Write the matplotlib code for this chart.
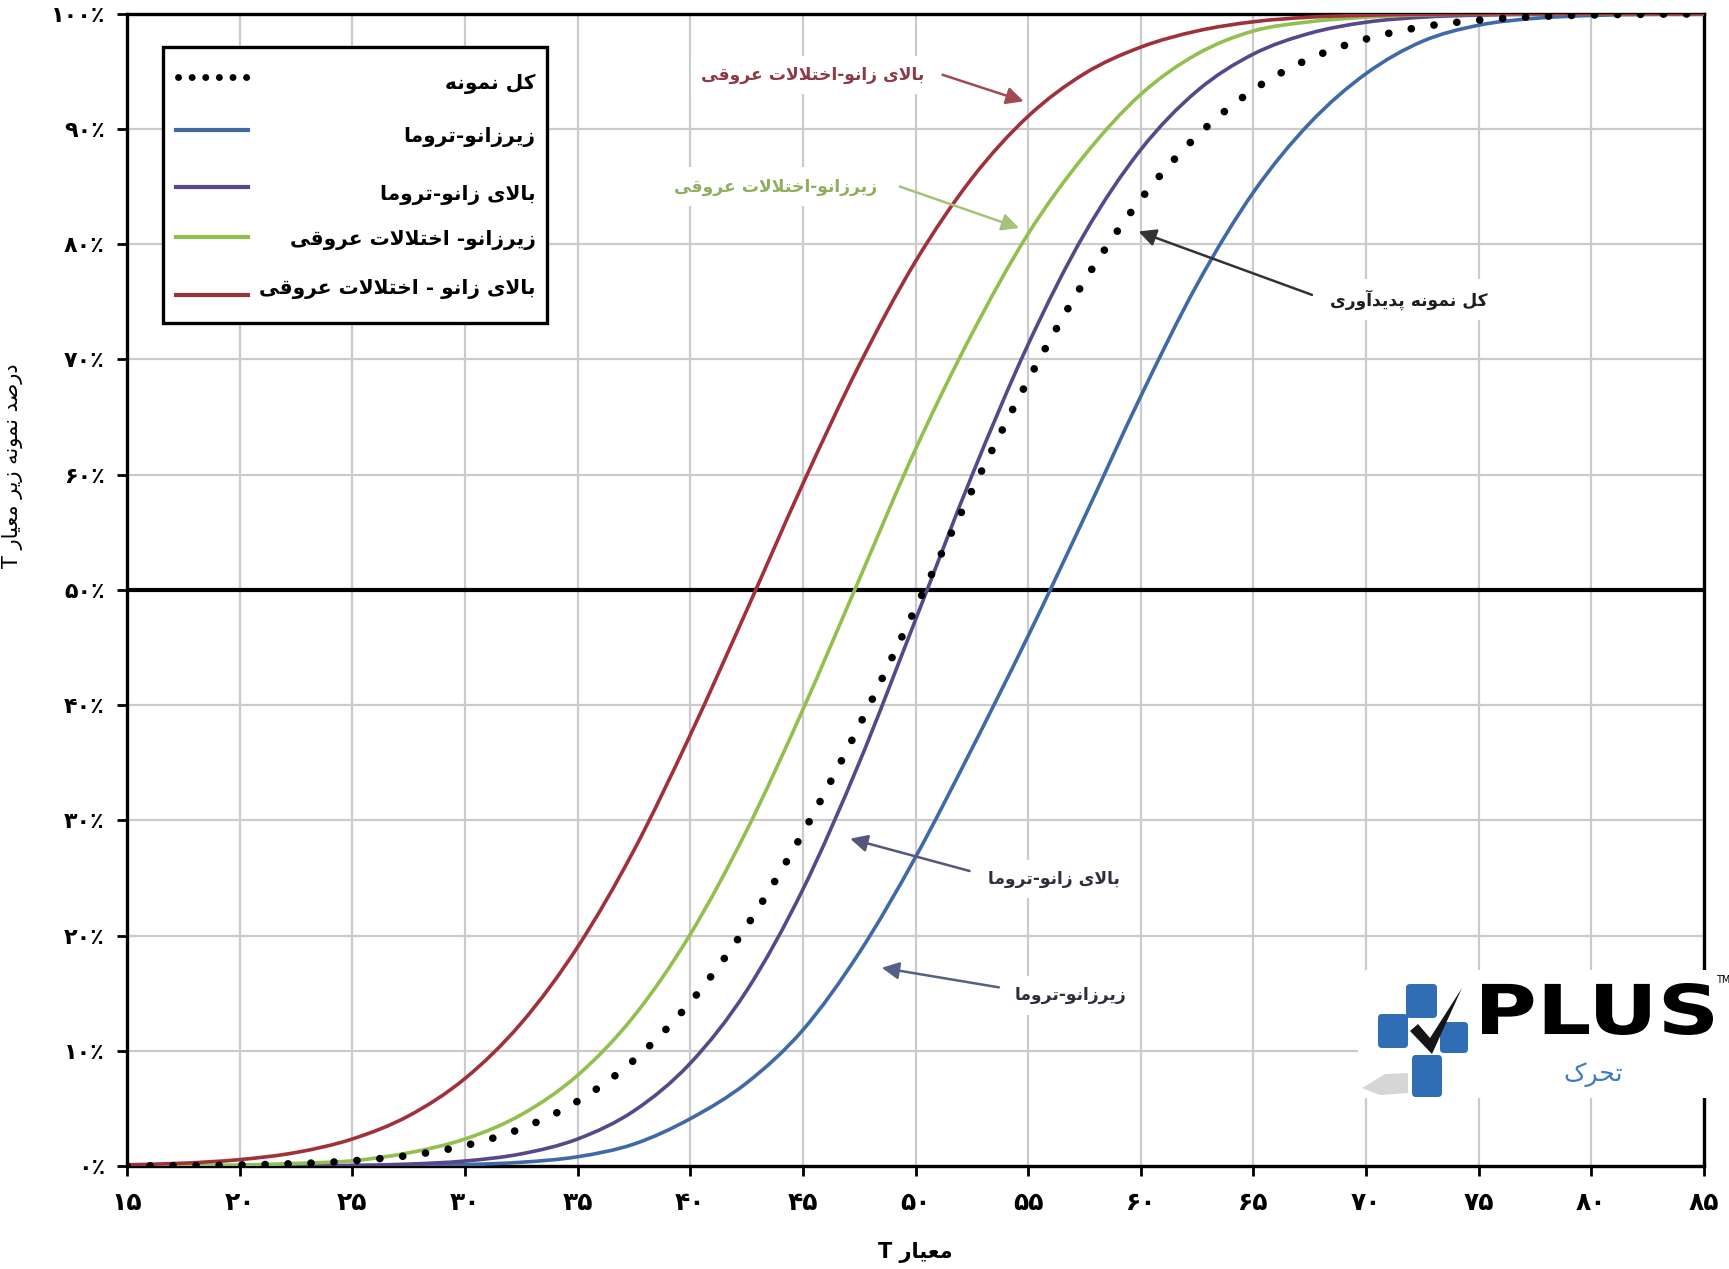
import matplotlib
matplotlib.use("Agg")
import matplotlib.pyplot as plt
from matplotlib.patches import Rectangle, Polygon, PathPatch, FancyBboxPatch
from matplotlib.path import Path
from matplotlib.textpath import TextPath
from matplotlib.font_manager import FontProperties
import matplotlib.transforms as mtransforms

# ---------------- data ----------------
t_values = [15, 17.5, 20, 22.5, 25, 27.5, 30, 32.5, 35, 37.5, 40, 42.5, 45, 47.5,
            50, 52.5, 55, 57.5, 60, 62.5, 65, 67.5, 70, 72.5, 75, 77.5, 80, 82.5, 85]

total_sample = [0.0001, 0.0003, 0.0009, 0.0020, 0.0044, 0.0091, 0.0177, 0.0325, 0.0562,
                0.0918, 0.142, 0.208, 0.289, 0.382, 0.484, 0.586, 0.682, 0.768, 0.839,
                0.894, 0.934, 0.961, 0.978, 0.9886, 0.9944, 0.9974, 0.9989, 0.9995, 0.9998]
below_knee_trauma = [0.0, 0.0, 0.0, 0.0001, 0.0002, 0.0005, 0.0012, 0.0032, 0.008, 0.019,
                     0.041, 0.072, 0.118, 0.185, 0.268, 0.362, 0.46, 0.563, 0.668, 0.765,
                     0.845, 0.905, 0.948, 0.976, 0.990, 0.996, 0.9985, 0.9995, 0.9998]
above_knee_trauma = [0.0, 0.0, 0.0, 0.0002, 0.0005, 0.0016, 0.0043, 0.0105, 0.0234, 0.0478,
                     0.0891, 0.152, 0.240, 0.350, 0.474, 0.599, 0.713, 0.809, 0.882, 0.933,
                     0.965, 0.983, 0.9926, 0.997, 0.9988, 0.9996, 0.9999, 1.0, 1.0]
below_knee_vascular = [0.0001, 0.0003, 0.0008, 0.0022, 0.0045, 0.0114, 0.0234, 0.0445, 0.0787,
                       0.130, 0.201, 0.291, 0.396, 0.509, 0.622, 0.722, 0.809, 0.877, 0.930,
                       0.965, 0.985, 0.993, 0.997, 0.999, 0.9995, 1.0, 1.0, 1.0, 1.0]
above_knee_vascular = [0.001, 0.0024, 0.0055, 0.0117, 0.0234, 0.0435, 0.0759, 0.124, 0.190,
                       0.274, 0.374, 0.482, 0.592, 0.695, 0.785, 0.857, 0.911, 0.948, 0.971,
                       0.985, 0.993, 0.997, 0.9987, 0.9995, 0.9998, 1.0, 1.0, 1.0, 1.0]

series_labels = ["کل نمونه", "زیرزانو-تروما", "بالای زانو-تروما",
                 "زیرزانو- اختلالات عروقی", "بالای زانو - اختلالات عروقی"]

x_ticks = [15, 20, 25, 30, 35, 40, 45, 50, 55, 60, 65, 70, 75, 80, 85]
x_tick_labels = ["۱۵", "۲۰", "۲۵", "۳۰", "۳۵", "۴۰", "۴۵", "۵۰", "۵۵", "۶۰", "۶۵", "۷۰", "۷۵", "۸۰", "۸۵"]
y_ticks = [0, 0.1, 0.2, 0.3, 0.4, 0.5, 0.6, 0.7, 0.8, 0.9, 1.0]
y_tick_labels = ["۰٪", "۱۰٪", "۲۰٪", "۳۰٪", "۴۰٪", "۵۰٪", "۶۰٪", "۷۰٪", "۸۰٪", "۹۰٪", "۱۰۰٪"]

x_label = "معیار T"
y_label = "درصد نمونه زیر معیار T"
logo_word = "تحرک"

# ---------------- simple Persian shaping (matplotlib has no text shaping) ----------------
FORMS = {
    'ا': ('\uFE8D', '\uFE8E', None, None),
    'آ': ('\uFE81', '\uFE82', None, None),
    'ب': ('\uFE8F', '\uFE90', '\uFE91', '\uFE92'),
    'پ': ('\uFB56', '\uFB57', '\uFB58', '\uFB59'),
    'ت': ('\uFE95', '\uFE96', '\uFE97', '\uFE98'),
    'ح': ('\uFEA1', '\uFEA2', '\uFEA3', '\uFEA4'),
    'خ': ('\uFEA5', '\uFEA6', '\uFEA7', '\uFEA8'),
    'د': ('\uFEA9', '\uFEAA', None, None),
    'ر': ('\uFEAD', '\uFEAE', None, None),
    'ز': ('\uFEAF', '\uFEB0', None, None),
    'ص': ('\uFEB9', '\uFEBA', '\uFEBB', '\uFEBC'),
    'ع': ('\uFEC9', '\uFECA', '\uFECB', '\uFECC'),
    'ق': ('\uFED5', '\uFED6', '\uFED7', '\uFED8'),
    'ک': ('\uFB8E', '\uFB8F', '\uFB90', '\uFB91'),
    'ل': ('\uFEDD', '\uFEDE', '\uFEDF', '\uFEE0'),
    'م': ('\uFEE1', '\uFEE2', '\uFEE3', '\uFEE4'),
    'ن': ('\uFEE5', '\uFEE6', '\uFEE7', '\uFEE8'),
    'ه': ('\uFEE9', '\uFEEA', '\uFEEB', '\uFEEC'),
    'و': ('\uFEED', '\uFEEE', None, None),
    'ی': ('\uFBFC', '\uFBFD', '\uFBFE', '\uFBFF'),
}
LAM_ALEF = {'ا': ('\uFEFB', '\uFEFC'), 'آ': ('\uFEF5', '\uFEF6')}


def _dual(c):
    return c in FORMS and FORMS[c][2] is not None


def shape(s):
    out = []
    n = len(s)
    i = 0
    while i < n:
        c = s[i]
        if c not in FORMS:
            out.append(c)
            i += 1
            continue
        join_prev = i > 0 and _dual(s[i - 1])
        if c == 'ل' and i + 1 < n and s[i + 1] in LAM_ALEF:
            out.append(LAM_ALEF[s[i + 1]][1 if join_prev else 0])
            i += 2
            continue
        join_next = _dual(c) and i + 1 < n and s[i + 1] in FORMS
        iso, fin, ini, med = FORMS[c]
        if join_prev and join_next:
            out.append(med)
        elif join_prev:
            out.append(fin)
        elif join_next:
            out.append(ini)
        else:
            out.append(iso)
        i += 1
    return ''.join(reversed(out))


def smooth_path(xs, ys):
    """Excel-style smoothed line: cubic Bezier segments through the data points."""
    n = len(xs)
    verts = [(xs[0], ys[0])]
    codes = [Path.MOVETO]
    for i in range(n - 1):
        p0 = (xs[i - 1], ys[i - 1]) if i > 0 else (xs[i], ys[i])
        p1 = (xs[i], ys[i])
        p2 = (xs[i + 1], ys[i + 1])
        p3 = (xs[i + 2], ys[i + 2]) if i + 2 < n else p2
        c1 = (p1[0] + (p2[0] - p0[0]) / 6.0, p1[1] + (p2[1] - p0[1]) / 6.0)
        c2 = (p2[0] - (p3[0] - p1[0]) / 6.0, p2[1] - (p3[1] - p1[1]) / 6.0)
        verts += [c1, c2, p2]
        codes += [Path.CURVE4] * 3
    return Path(verts, codes)


plt.rcParams['font.family'] = ['DejaVu Sans']

# ---------------- colours ----------------
c_blue = '#3F6AA6'
c_purple = '#58488A'
c_green = '#92BF4E'
c_red = '#A0313A'

fig = plt.figure(figsize=(17.29, 12.69), dpi=100, facecolor='white')
ax = fig.add_axes([0.0735, 0.0812, 0.912, 0.908])

ax.set_xlim(15, 85)
ax.set_ylim(0, 1)
ax.set_xticks(x_ticks)
ax.set_xticklabels(x_tick_labels, fontsize=18, fontweight='bold')
ax.set_yticks(y_ticks)
ax.set_yticklabels(y_tick_labels, fontsize=16, fontweight='bold')
ax.tick_params(axis='both', direction='out', length=7, width=2, color='black')
ax.tick_params(axis='x', pad=11)
ax.tick_params(axis='y', pad=9)
ax.grid(True, color='#CBCBCB', lw=1.6, zorder=0)
ax.set_axisbelow(True)
for sp in ax.spines.values():
    sp.set_linewidth(2.4)
    sp.set_color('black')

ax.axhline(0.5, color='black', lw=3.0, zorder=2)

for ys, col in [(below_knee_trauma, c_blue), (above_knee_trauma, c_purple),
                (below_knee_vascular, c_green), (above_knee_vascular, c_red)]:
    ax.add_patch(PathPatch(smooth_path(t_values, ys), fill=False, edgecolor=col,
                           lw=2.6, zorder=3, capstyle='round', joinstyle='round'))
ax.add_patch(PathPatch(smooth_path(t_values, total_sample), fill=False, edgecolor='black',
                       lw=5.5, linestyle=(0, (0.01, 3.0)), capstyle='round', zorder=4))

ax.set_xlabel(shape(x_label), fontsize=15, fontweight='bold')
ax.xaxis.set_label_coords(0.5, -0.066)
ax.set_ylabel(shape(y_label), fontsize=15)
ax.yaxis.set_label_coords(-0.066, 0.608)

# ---------------- legend (RTL style: handles left, labels right-aligned) ----------------
ax.add_patch(Rectangle((0.023, 0.732), 0.243, 0.239, transform=ax.transAxes,
                       facecolor='white', edgecolor='black', lw=2.4, zorder=6))
leg_rows = [0.945, 0.899, 0.850, 0.806, 0.756]
leg_text_rows = [0.939, 0.893, 0.843, 0.804, 0.761]
leg_colors = ['black', c_blue, c_purple, c_green, c_red]
for k in range(5):
    if k == 0:
        ax.plot([0.032, 0.077], [leg_rows[k], leg_rows[k]], transform=ax.transAxes,
                color='black', lw=5.0, linestyle=(0, (0.01, 1.95)), dash_capstyle='round',
                zorder=7, clip_on=False)
    else:
        ax.plot([0.031, 0.077], [leg_rows[k], leg_rows[k]], transform=ax.transAxes,
                color=leg_colors[k], lw=3.0, zorder=7, clip_on=False)
    ax.text(0.259, leg_text_rows[k], shape(series_labels[k]), transform=ax.transAxes,
            ha='right', va='center', fontsize=14.5, fontweight='bold', color='black', zorder=7)

# ---------------- annotations ----------------
annots = [
    ("بالای زانو-اختلالات عروقی", (50.4, 0.947), 'right', '#8C3A46', (51.2, 0.947), (54.8, 0.924), '#A04A55'),
    ("زیرزانو-اختلالات عروقی", (48.3, 0.850), 'right', '#8FAE5E', (49.3, 0.850), (54.6, 0.814), '#A6C27A'),
    ("کل نمونه پدیدآوری", (68.4, 0.752), 'left', '#1E1E1E', (67.6, 0.756), (59.9, 0.811), '#333333'),
    ("بالای زانو-تروما", (53.2, 0.249), 'left', '#2E2E3E', (52.4, 0.256), (47.1, 0.284), '#55577A'),
    ("زیرزانو-تروما", (54.4, 0.148), 'left', '#2E2E3E', (53.7, 0.155), (48.5, 0.172), '#556085'),
]
for txt, pos, ha, tcol, start, tip, acol in annots:
    ax.text(pos[0], pos[1], shape(txt), ha=ha, va='center', fontsize=12.3, fontweight='bold',
            color=tcol, zorder=5,
            bbox=dict(boxstyle='square,pad=0.6', facecolor='white', edgecolor='none'))
    ax.annotate('', xy=tip, xytext=start,
                arrowprops=dict(arrowstyle='-|>', color=acol, lw=1.8, mutation_scale=26,
                                shrinkA=0, shrinkB=0), zorder=5)

# ---------------- logo (bottom right) ----------------
H = 1269
LX0, LX1, LY0, LY1 = 1358, 1729, 970, 1098
lax = fig.add_axes([LX0 / 1729, (H - LY1) / H, (LX1 - LX0) / 1729, (LY1 - LY0) / H], zorder=10)
lax.set_xlim(LX0, LX1)
lax.set_ylim(H - LY1, H - LY0)
lax.set_axis_off()
lax.add_patch(Rectangle((LX0, H - LY1), LX1 - LX0, LY1 - LY0, facecolor='white', edgecolor='none'))


def P(pts):
    return [(x, H - y) for x, y in pts]


logo_blue = '#2F6DB4'
lax.add_patch(Polygon(P([(1362, 1088), (1385, 1074), (1408, 1073), (1408, 1093), (1380, 1095)]),
                      facecolor='#D6D6D6', edgecolor='none'))
for (xa, ya, xb, yb) in [(1406, 984, 1437, 1018), (1378, 1014, 1408, 1048),
                         (1440, 1022, 1468, 1053), (1412, 1055, 1442, 1097)]:
    lax.add_patch(FancyBboxPatch((xa, H - yb), xb - xa, yb - ya,
                                 boxstyle='round,pad=0,rounding_size=4',
                                 facecolor=logo_blue, edgecolor='none'))
lax.add_patch(Polygon(P([(1410, 1031), (1418, 1024), (1430, 1038), (1462, 988), (1432, 1054)]),
                      facecolor='#151515', edgecolor='none'))

fp = FontProperties(family='DejaVu Sans', weight='bold')
tp = TextPath((0, 0), 'PLUS', size=1, prop=fp)
bb = tp.get_extents()
x0, x1, yb_, yt_ = 1482, 1713, 1035, 983
tr = mtransforms.Affine2D().translate(-bb.x0, -bb.y0).scale((x1 - x0) / bb.width,
                                                              (yb_ - yt_) / bb.height).translate(x0, H - yb_)
lax.add_patch(PathPatch(tr.transform_path(tp), facecolor='black', edgecolor='none'))
lax.text(1716, H - 980, 'TM', fontsize=7, color='black', ha='left', va='center')
lax.text(1593, H - 1075, shape(logo_word), fontsize=18, color='#3C7CC4', ha='center', va='center')

fig.savefig('out.png', dpi=100, facecolor='white')
